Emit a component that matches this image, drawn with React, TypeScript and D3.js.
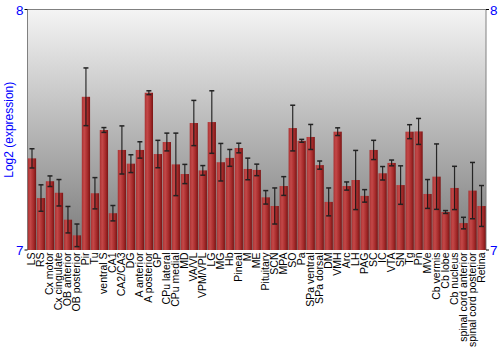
import React from "react";
import * as d3 from "d3";

const categories = ["LS","RS","Cx motor","Cx cingulate","OB anterior","OB posterior","Pir","Tu","ventral S","CA1","CA2/CA3","DG","A anterior","A posterior","GP","CPu lateral","CPu medial","MD","VA/VL","VPM/VPL","LG","MG","Hb","Pineal","M","ME","Pituitary","SCN","MPA","SO","Pa","SPa ventral","SPa dorsal","DM","VMH","Arc","LH","PAG","SC","IC","VTA","SN","Tg","Pn","MVe","Cb vermis","Cb lobe","Cb nucleus","spinal cord anterior","spinal cord posterior","Retina"];
const values = [7.381,7.216,7.286,7.238,7.126,7.061,7.637,7.236,7.499,7.153,7.416,7.359,7.416,7.654,7.399,7.449,7.356,7.316,7.528,7.331,7.532,7.365,7.383,7.424,7.337,7.333,7.219,7.183,7.266,7.507,7.454,7.47,7.353,7.2,7.492,7.266,7.291,7.225,7.416,7.319,7.362,7.27,7.492,7.493,7.233,7.305,7.158,7.258,7.112,7.247,7.183];
const errors = [0.04,0.055,0.022,0.055,0.055,0.047,0.12,0.065,0.01,0.032,0.1,0.037,0.034,0.008,0.057,0.037,0.13,0.04,0.094,0.02,0.13,0.078,0.035,0.02,0.045,0.024,0.028,0.075,0.039,0.095,0.006,0.052,0.017,0.058,0.016,0.017,0.123,0.026,0.04,0.028,0.012,0.08,0.029,0.054,0.06,0.136,0.006,0.09,0.024,0.117,0.085];
const yTicks = [7, 8];
const yLabel = "Log2 (expression)";

export default function App() {
  const W = 500, H = 350;
  const left = 27.5, right = 486, top = 9.5, bottom = 250;
  const x = d3.scaleBand<string>().domain(categories).range([left, right]).paddingInner(0.08).paddingOuter(0.04);
  const y = d3.scaleLinear().domain([7, 8]).range([bottom, top]);
  const font = "Liberation Sans, Arial, sans-serif";
  return (
    <svg width={W} height={H} style={{ position: "absolute", left: 0, top: 0 }} fontFamily={font}>
      <defs>
        <linearGradient id="bg" x1="0" y1="0" x2="0" y2="1">
          <stop offset="0" stopColor="#f4f4f4" />
          <stop offset="1" stopColor="#7a7a7a" />
        </linearGradient>
        <linearGradient id="bar" x1="0" y1="0" x2="1" y2="0">
          <stop offset="0" stopColor="#a83232" />
          <stop offset="0.3" stopColor="#c44848" />
          <stop offset="0.7" stopColor="#a52a2a" />
          <stop offset="1" stopColor="#7a1414" />
        </linearGradient>
      </defs>
      <rect x={left} y={top} width={right - left} height={bottom - top} fill="url(#bg)" />
      <line x1={left} x2={right} y1={top} y2={top} stroke="#808080" />
      <line x1={left} x2={left} y1={top} y2={bottom} stroke="#808080" />
      <line x1={right} x2={right} y1={top} y2={bottom} stroke="#808080" />
      {categories.map((c, i) => {
        const bx = x(c)!;
        const bw = x.bandwidth();
        const v = values[i];
        const e = errors[i];
        const cx = bx + bw / 2;
        return (
          <g key={c}>
            <rect x={bx} y={y(v)} width={bw} height={bottom - y(v)} fill="url(#bar)" />
            <line x1={cx} x2={cx} y1={y(v + e)} y2={y(v - e)} stroke="#111" strokeWidth={1.2} opacity={0.85} />
            <line x1={cx - 2.5} x2={cx + 2.5} y1={y(v + e)} y2={y(v + e)} stroke="#222" strokeWidth={1.5} />
            <line x1={cx - 2.5} x2={cx + 2.5} y1={y(v - e)} y2={y(v - e)} stroke="#222" strokeWidth={1.5} />
            <text transform={`translate(${cx + 3.5},${bottom + 2.5}) rotate(-90)`} textAnchor="end" fontSize={10.5} fill="#000">{c}</text>
          </g>
        );
      })}
      {yTicks.map((t) => (
        <g key={t}>
          <line x1={left - 3} x2={left} y1={y(t)} y2={y(t)} stroke="#000" />
          <text x={left - 4} y={y(t) + 5} textAnchor="end" fontSize={13.5} fill="#0000ff">{t}</text>
          <line x1={right} x2={right + 3} y1={y(t)} y2={y(t)} stroke="#000" />
          <text x={right + 4} y={y(t) + 5} textAnchor="start" fontSize={13.5} fill="#0000ff">{t}</text>
        </g>
      ))}
      <text transform={`translate(12.5,${(top + bottom) / 2}) rotate(-90)`} textAnchor="middle" fontSize={12} fill="#0000ff">{yLabel}</text>
    </svg>
  );
}
